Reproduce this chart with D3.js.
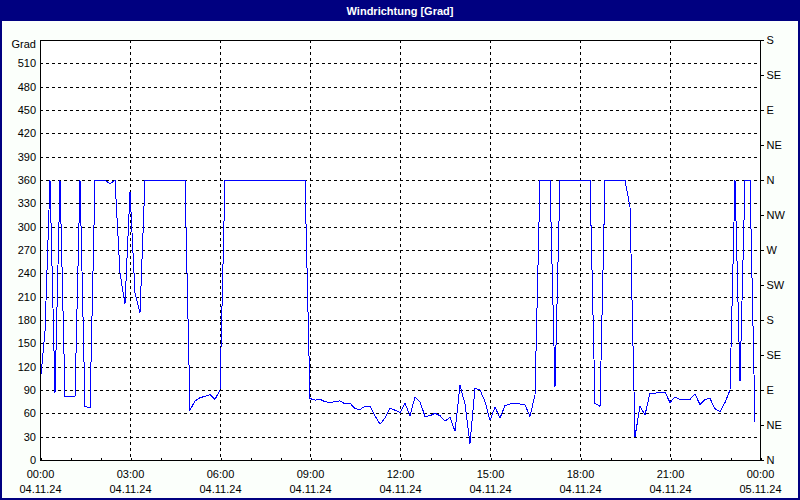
<!DOCTYPE html>
<html>
<head>
<meta charset="utf-8">
<script src="https://cdn.jsdelivr.net/npm/d3@7/dist/d3.min.js"></script>
<style>
  html, body { margin: 0; padding: 0; background: #fbfffb; }
  svg { display: block; }
  text { font-family: "Liberation Sans", Arial, sans-serif; }
</style>
</head>
<body>
<svg id="chart" width="800" height="500"></svg>
<script>
// ---- data ----
const title = "Windrichtung [Grad]";
const yUnit = "Grad";
const stepMinutes = 10;           // sampling interval of the series
const windDir = [
  96, 165, 360, 86, 360, 82, 82, 82, 360, 69, 67, 360, 360, 360, 355, 360, 240, 201, 345, 215, 189, 360,
  360, 360, 360, 360, 360, 360, 360, 360,
  64, 76, 80, 82, 84, 78, 90,
  360, 360, 360, 360, 360, 360, 360, 360, 360, 360, 360, 360, 360, 360, 360, 360, 360,
  79, 77, 78, 75, 74, 75, 76, 72, 73, 66, 65, 69, 69, 57, 46, 54, 67, 64, 61, 73, 57, 81, 75, 56, 57, 60,
  57, 50, 55, 37, 96, 72, 21, 92, 90, 75, 51, 68, 54, 70, 72, 73, 72, 71, 56, 84,
  360, 360, 360, 94, 360, 360, 360, 360, 360, 360, 360, 73, 69, 360,
  360, 360, 360, 360,
  325, 30, 69, 58, 86, 86, 87, 87, 74, 81, 78, 78, 78, 85, 71, 78, 79, 66, 62, 74, 90, 360, 101, 360, 360, 49
];
const yTicks = [0, 30, 60, 90, 120, 150, 180, 210, 240, 270, 300, 330, 360, 390, 420, 450, 480, 510];
const yMax = 540;
const dirTicks = [0, 45, 90, 135, 180, 225, 270, 315, 360, 405, 450, 495, 540];
const dirLabels = ["N", "NE", "E", "SE", "S", "SW", "W", "NW", "N", "NE", "E", "SE", "S"];
const xTickMinutes = [0, 180, 360, 540, 720, 900, 1080, 1260, 1440];
const xTimeLabels = ["00:00", "03:00", "06:00", "09:00", "12:00", "15:00", "18:00", "21:00", "00:00"];
const xDateLabels = ["04.11.24", "04.11.24", "04.11.24", "04.11.24", "04.11.24", "04.11.24", "04.11.24", "04.11.24", "05.11.24"];
const hourMinutes = d3.range(0, 1441, 60);

// ---- layout ----
const W = 800, H = 500;
const L = 40, R = 760, T = 40, B = 460;
const navy = "#000080";

const svg = d3.select("#chart");
svg.append("rect").attr("x", 0).attr("y", 0).attr("width", W).attr("height", H).attr("fill", "#fbfffb");

// title bar and frame
svg.append("rect").attr("x", 0).attr("y", 0).attr("width", W).attr("height", 21).attr("fill", navy);
svg.append("rect").attr("x", 1).attr("y", 1).attr("width", W - 2).attr("height", H - 2)
  .attr("fill", "none").attr("stroke", navy).attr("stroke-width", 2);
svg.append("text").attr("x", W / 2).attr("y", 14.5).attr("text-anchor", "middle")
  .attr("fill", "#ffffff").attr("font-size", "11px").attr("font-weight", "bold").text(title);

const x = d3.scaleLinear().domain([0, 1440]).range([L, R]);
const y = d3.scaleLinear().domain([0, yMax]).range([B, T]);

// plot background
svg.append("rect").attr("x", L).attr("y", T).attr("width", R - L).attr("height", B - T).attr("fill", "#ffffff");

// gridlines
const grid = svg.append("g").attr("shape-rendering", "crispEdges")
  .attr("stroke", "#000").attr("stroke-width", 1).attr("stroke-dasharray", "3,3");
grid.selectAll("line.h").data(yTicks.filter(d => d > 0)).join("line")
  .attr("x1", L).attr("x2", R).attr("y1", d => Math.round(y(d)) + 0.5).attr("y2", d => Math.round(y(d)) + 0.5);
grid.selectAll("line.v").data(xTickMinutes.slice(1, -1)).join("line")
  .attr("y1", T).attr("y2", B).attr("x1", d => Math.round(x(d)) + 0.5).attr("x2", d => Math.round(x(d)) + 0.5);

// data line
const line = d3.line().x((d, i) => x(i * stepMinutes)).y(d => y(d));
svg.append("path").datum(windDir).attr("d", line)
  .attr("fill", "none").attr("stroke", "#0000ff").attr("stroke-width", 1)
  .attr("shape-rendering", "crispEdges");

// frame
svg.append("rect").attr("x", L + 0.5).attr("y", T + 0.5).attr("width", R - L).attr("height", B - T)
  .attr("fill", "none").attr("stroke", "#000").attr("shape-rendering", "crispEdges");

// left axis
const leftAxis = d3.axisLeft(y).tickValues(yTicks).tickSize(0).tickPadding(4).tickFormat(d3.format("d"));
const gl = svg.append("g").attr("transform", `translate(${L},0)`).call(leftAxis);
gl.select(".domain").remove();
gl.selectAll("text").attr("font-size", "11px").attr("fill", "#000").attr("font-family", "Liberation Sans, Arial, sans-serif");
svg.append("text").attr("x", L - 4).attr("y", y(yMax) + 8).attr("text-anchor", "end")
  .attr("font-size", "11px").attr("fill", "#000").text(yUnit);

// right axis (compass)
const rightAxis = d3.axisRight(y).tickValues(dirTicks).tickSize(3).tickPadding(3)
  .tickFormat((d, i) => dirLabels[i]);
const gr = svg.append("g").attr("transform", `translate(${R + 0.5},0)`).call(rightAxis);
gr.select(".domain").remove();
gr.selectAll("line").attr("stroke", "#000").attr("shape-rendering", "crispEdges");
gr.selectAll("text").attr("font-size", "11px").attr("fill", "#000").attr("font-family", "Liberation Sans, Arial, sans-serif");

// bottom hour ticks (inside)
const bt = d3.axisTop(x).tickValues(hourMinutes).tickSize(3).tickFormat("");
const gb = svg.append("g").attr("transform", `translate(0.5,${B + 0.5})`).call(bt);
gb.select(".domain").remove();
gb.selectAll("line").attr("stroke", "#000").attr("shape-rendering", "crispEdges");

// bottom labels
const timeAxis = d3.axisBottom(x).tickValues(xTickMinutes).tickSize(0).tickPadding(10)
  .tickFormat((d, i) => xTimeLabels[i]);
const gt = svg.append("g").attr("transform", `translate(0,${B})`).call(timeAxis);
gt.select(".domain").remove();
gt.selectAll("text").attr("font-size", "11px").attr("fill", "#000").attr("font-family", "Liberation Sans, Arial, sans-serif");

const dateAxis = d3.axisBottom(x).tickValues(xTickMinutes).tickSize(0).tickPadding(25)
  .tickFormat((d, i) => xDateLabels[i]);
const gd = svg.append("g").attr("transform", `translate(0,${B})`).call(dateAxis);
gd.select(".domain").remove();
gd.selectAll("text").attr("font-size", "11px").attr("fill", "#000").attr("font-family", "Liberation Sans, Arial, sans-serif");
</script>
</body>
</html>
